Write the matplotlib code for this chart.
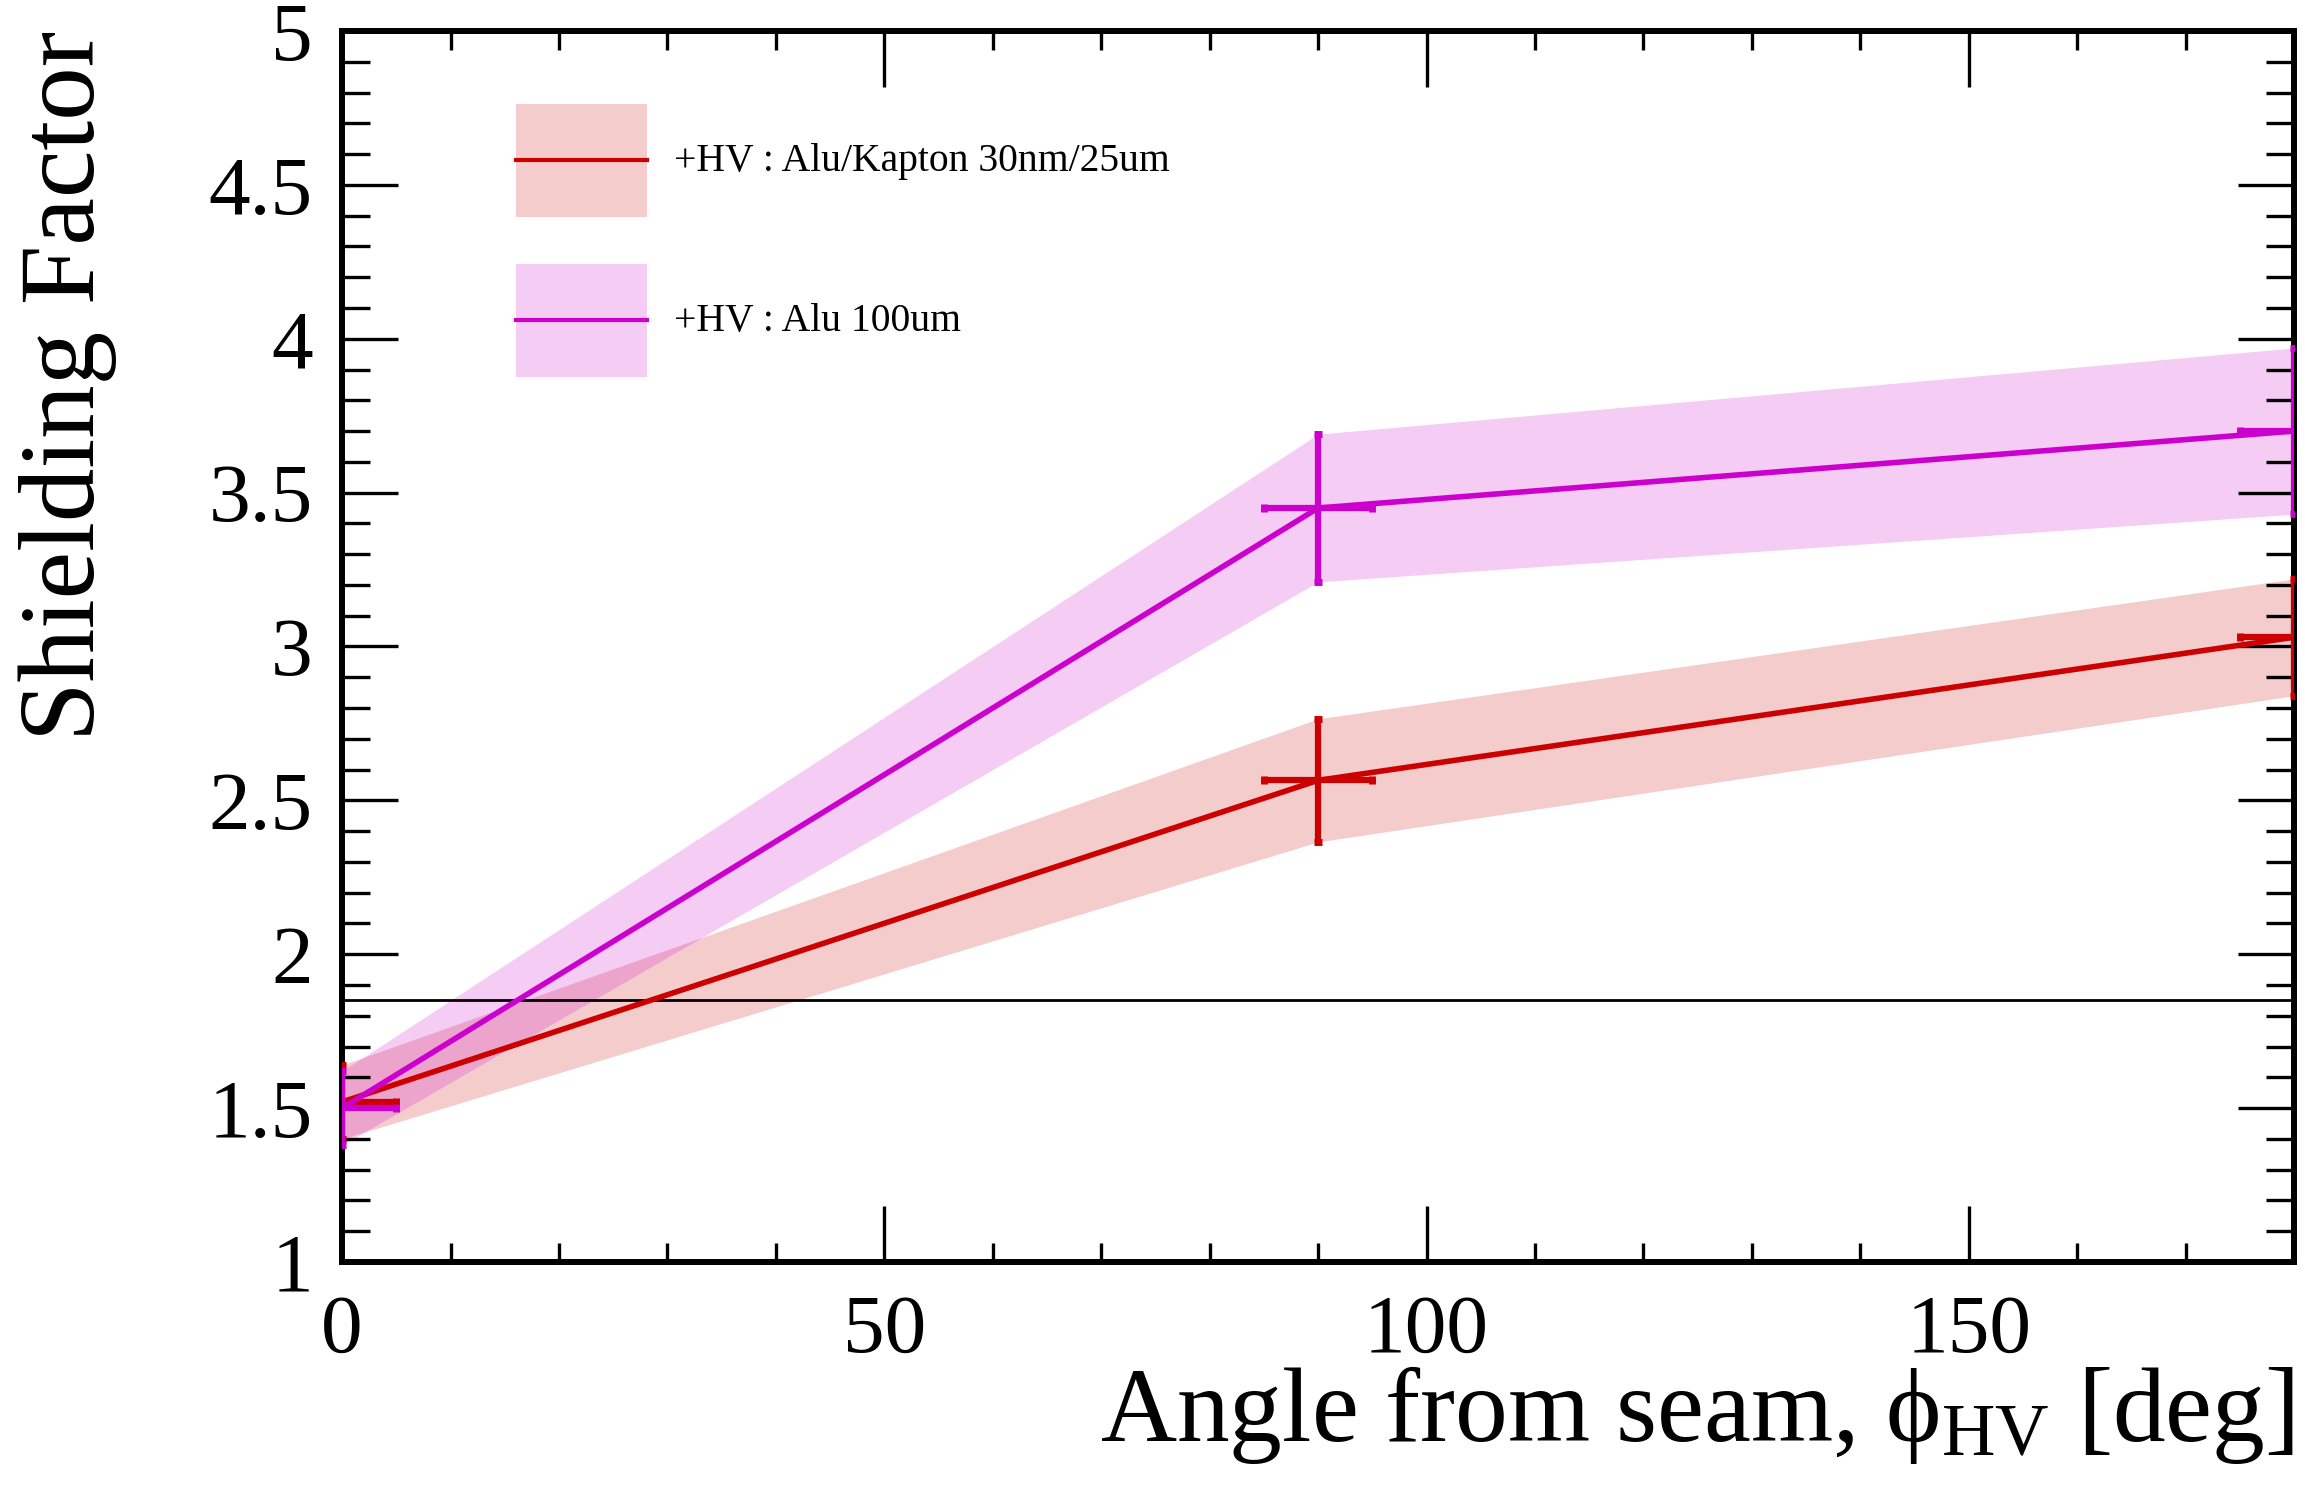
import matplotlib
matplotlib.use("Agg")
import matplotlib.pyplot as plt
from matplotlib.patches import Rectangle
from matplotlib.lines import Line2D
from matplotlib.legend_handler import HandlerBase
from matplotlib.ticker import MultipleLocator, FormatStrFormatter

plt.rcParams['font.family'] = ['Liberation Serif', 'DejaVu Serif']
plt.rcParams['mathtext.fontset'] = 'custom'
plt.rcParams['mathtext.rm'] = 'Liberation Serif'
plt.rcParams['mathtext.it'] = 'Liberation Serif:italic'

# Measured shielding factors vs. angle from the seam
angle = [0, 90, 180]
angle_err = [5, 5, 5]

kapton_label = "+HV : Alu/Kapton 30nm/25um"
kapton_sf = [1.52, 2.565, 3.03]
kapton_err = [0.12, 0.20, 0.19]

alu_label = "+HV : Alu 100um"
alu_sf = [1.50, 3.45, 3.70]
alu_err = [0.12, 0.24, 0.27]

reference_level = 1.85

red = "#cc0000"
magenta = "#cc00cc"


class BandHandler(HandlerBase):
    """Legend key: translucent band with the central line through its middle."""

    def create_artists(self, legend, orig_handle, xdescent, ydescent, width,
                       height, fontsize, trans):
        color = orig_handle.get_color()
        rect = Rectangle((-xdescent, -ydescent), width, height, facecolor=color,
                         alpha=0.2, linewidth=0, transform=trans)
        yc = -ydescent + height / 2.0
        line = Line2D([-xdescent, -xdescent + width], [yc, yc], color=color,
                      linewidth=orig_handle.get_linewidth(), transform=trans)
        return [rect, line]


fig = plt.figure(figsize=(23.05, 14.97), dpi=100)
ax = fig.add_axes([0.1484, 0.1570, 0.8469, 0.8223])

# uncertainty bands
for y, e, c in [(kapton_sf, kapton_err, red), (alu_sf, alu_err, magenta)]:
    lo = [v - d for v, d in zip(y, e)]
    hi = [v + d for v, d in zip(y, e)]
    ax.fill_between(angle, lo, hi, color=c, alpha=0.2, linewidth=0, zorder=1)

ax.axhline(reference_level, color="black", linewidth=2, zorder=2)

for y, e, c, z in [(kapton_sf, kapton_err, red, 3), (alu_sf, alu_err, magenta, 4)]:
    ax.errorbar(angle, y, yerr=e, xerr=angle_err, color=c, linewidth=4,
                elinewidth=4.5, capsize=3, capthick=5, zorder=z)

ax.set_xlim(0, 180)
ax.set_ylim(1, 5)

ax.xaxis.set_major_locator(MultipleLocator(50))
ax.xaxis.set_minor_locator(MultipleLocator(10))
ax.yaxis.set_major_locator(MultipleLocator(0.5))
ax.yaxis.set_minor_locator(MultipleLocator(0.1))
ax.yaxis.set_major_formatter(FormatStrFormatter('%g'))

ax.tick_params(which='both', direction='in', top=True, right=True, width=2.4,
               labelsize=60)
ax.tick_params(axis='x', which='major', length=40, pad=23)
ax.tick_params(axis='y', which='major', length=40, pad=21)
ax.tick_params(axis='x', which='minor', length=14)
ax.tick_params(axis='y', which='minor', length=20)

for s in ax.spines.values():
    s.set_linewidth(4.3)

ax.set_ylabel("Shielding Factor", fontsize=77, loc='top')
ax.yaxis.set_label_coords(-0.1153, 1.0)
ax.set_xlabel(r"Angle from seam, $\mathrm{\phi}_{\mathrm{HV}}$ [deg]", fontsize=76, loc='right')
ax.xaxis.set_label_coords(1.0, -0.083)

handles = [Line2D([], [], color=red, linewidth=3),
           Line2D([], [], color=magenta, linewidth=3)]
ax.legend(handles, [kapton_label, alu_label], handler_map={Line2D: BandHandler()},
          loc='upper left', bbox_to_anchor=(0.0892, 0.9407), frameon=False, fontsize=28.5,
          handlelength=3.3, handleheight=4.0, handletextpad=0.68, labelspacing=1.2,
          borderpad=0, borderaxespad=0)

fig.savefig("out.png", dpi=100)
